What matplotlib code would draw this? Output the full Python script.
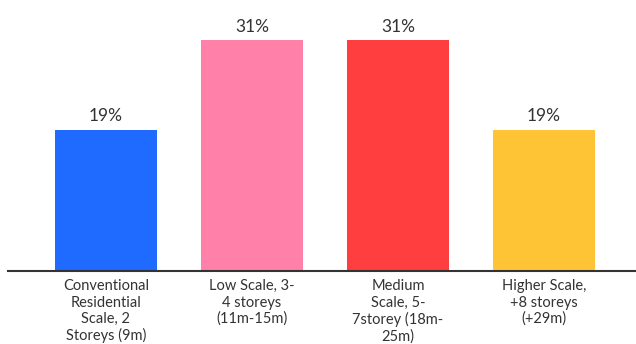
import matplotlib
matplotlib.use("Agg")
import matplotlib.pyplot as plt

categories = [
    "Conventional\nResidential\nScale, 2\nStoreys (9m)",
    "Low Scale, 3-\n4 storeys\n(11m-15m)",
    "Medium\nScale, 5-\n7storey (18m-\n25m)",
    "Higher Scale,\n+8 storeys\n(+29m)",
]
values = [19, 31, 31, 19]
colors = ["#1f6bff", "#ff80a8", "#ff3f3f", "#ffc436"]

plt.rcParams["font.family"] = ["Lato", "DejaVu Sans"]

fig = plt.figure(figsize=(6.36, 3.44), dpi=100)
ax = fig.add_axes([8 / 636, 73 / 344, 628 / 636, 271 / 344])

x = list(range(len(values)))
bars = ax.bar(x, values, width=0.7, color=colors)

for xi, v in zip(x, values):
    ax.annotate(f"{v}%", (xi, v), xytext=(0, 4), textcoords="offset points",
                ha="center", va="bottom", fontsize=12.5, color="#333333")

ax.set_xlim(-0.67, 3.63)
ax.set_ylim(0, 36.4)
ax.set_xticks(x)
ax.set_xticklabels(categories, fontsize=10.5, color="#333333", linespacing=1.2)
ax.tick_params(axis="x", length=0, pad=6)
ax.set_yticks([])

for s in ["top", "right", "left"]:
    ax.spines[s].set_visible(False)
ax.spines["bottom"].set_color("#333333")
ax.spines["bottom"].set_linewidth(1.5)

fig.savefig("out.png", dpi=100)
